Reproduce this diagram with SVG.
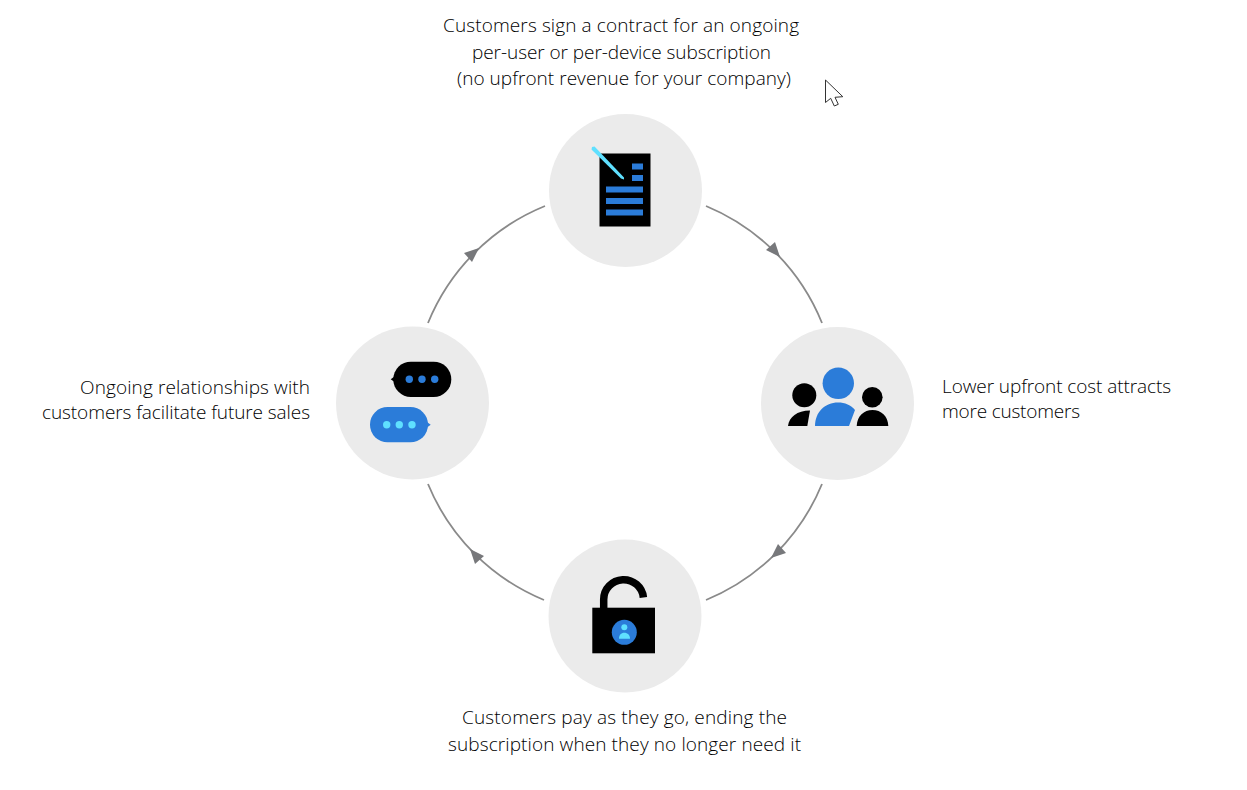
<svg xmlns="http://www.w3.org/2000/svg" width="1247" height="790" viewBox="0 0 1247 790">
<style>
.disc{fill:#ebebeb}
.blue{fill:#2b7cd9}
.cyan{fill:#5fe0ff}
.blk{fill:#000}
.arc{fill:none;stroke:#8a8a8a;stroke-width:1.8}
.head{fill:#77787b}
text{font-family:"Open Sans","Noto Sans","Liberation Sans",sans-serif;font-weight:300;font-size:19px;fill:#000}
.m{text-anchor:middle}
.e{text-anchor:end}
</style>
<defs>
<polygon id="arrow" points="780,257 775,242 766,250"/>
</defs>
<rect width="1247" height="790" fill="#fff"/>
<g id="connectors">
<path class="arc" d="M706 206A213 213 0 0 1 822 323"/>
<path class="arc" d="M822 484A213 213 0 0 1 706 600"/>
<path class="arc" d="M544 600A213 213 0 0 1 428 484"/>
<path class="arc" d="M428 323A213 213 0 0 1 545 206"/>
<use href="#arrow" class="head"/>
<use href="#arrow" class="head" transform="rotate(90 625 403)"/>
<use href="#arrow" class="head" transform="rotate(180 625 403)"/>
<use href="#arrow" class="head" transform="rotate(270 625 403)"/>
</g>
<g id="node-contract">
<circle class="disc" cx="625.5" cy="190.5" r="76.5"/>
<rect class="blk" x="599.5" y="153.5" width="51" height="73"/>
<rect class="blue" x="632" y="163.5" width="11" height="6"/>
<rect class="blue" x="632" y="175" width="11" height="6"/>
<rect class="blue" x="606" y="186.5" width="37" height="6"/>
<rect class="blue" x="606" y="198" width="37" height="6"/>
<rect class="blue" x="606" y="209.5" width="37" height="6"/>
<polygon class="cyan" points="591.5,149.500 592,147 594.500,146.500 624,177.500 624,179.500 621,178.500"/>
<text class="m" x="621" y="32" textLength="356">Customers sign a contract for an ongoing</text>
<text class="m" x="621.5" y="59" textLength="299">per-user or per-device subscription</text>
<text class="m" x="624" y="85" textLength="334">(no upfront revenue for your company)</text>
</g>
<g id="node-customers">
<circle class="disc" cx="837.5" cy="403.5" r="76.5"/>
<circle class="blue" cx="838.3" cy="383.3" r="15.7"/>
<path class="blue" d="M815 426C815 412 825 402.500 838 402.500C845 402.500 851 405 855 410L849 426Z"/>
<circle class="blk" cx="804.300" cy="395.300" r="12"/>
<path class="blk" d="M788 426C789 417 797 410.500 810 410.500L807.300 426Z"/>
<circle class="blk" cx="872.300" cy="397.300" r="10.300"/>
<path class="blk" d="M856.700 426C857 416 864 410 872.500 410C881 410 888 416 888.300 426Z"/>
<text x="942" y="393" textLength="229">Lower upfront cost attracts</text>
<text x="942" y="418" textLength="138">more customers</text>
</g>
<g id="node-pay">
<circle class="disc" cx="625" cy="616" r="76.500"/>
<path d="M603.700 608V599.500A19.900 19.800 0 0 1 643.400 597.500" fill="none" stroke="#000" stroke-width="7.500"/>
<rect class="blk" x="592.300" y="607.700" width="62.700" height="45.600"/>
<circle class="blue" cx="624.300" cy="632.300" r="12.500"/>
<circle class="cyan" cx="624.300" cy="627.300" r="3"/>
<path class="cyan" d="M619 638.700C619 635 621 632.800 624.300 632.800C627.600 632.800 630 635 630 638.700Z"/>
<text class="m" x="624.500" y="724" textLength="325">Customers pay as they go, ending the</text>
<text class="m" x="624.500" y="751" textLength="353">subscription when they no longer need it</text>
</g>
<g id="node-relationships">
<circle class="disc" cx="412.500" cy="403" r="76.500"/>
<rect class="blk" x="393.300" y="361.700" width="58" height="35.300" rx="17.600"/>
<polygon class="blk" points="390.700,379.300 394.500,376.500 394.500,382"/>
<circle class="blue" cx="409.300" cy="379.300" r="3.700"/>
<circle class="blue" cx="422" cy="379.300" r="3.700"/>
<circle class="blue" cx="434.700" cy="379.300" r="3.700"/>
<rect class="blue" x="370" y="407" width="58" height="35.300" rx="17.600"/>
<polygon class="blue" points="430.700,424.700 427,422 427,427.500"/>
<circle class="cyan" cx="386.700" cy="424.700" r="3.700"/>
<circle class="cyan" cx="399.300" cy="424.700" r="3.700"/>
<circle class="cyan" cx="412" cy="424.700" r="3.700"/>
<text class="e" x="310" y="394" textLength="230">Ongoing relationships with</text>
<text class="e" x="310" y="419" textLength="268">customers facilitate future sales</text>
</g>
<polygon points="825.500,80 825.500,102.500 830.700,98.300 834.300,106 838.300,104.300 835,97.300 842.800,96.700" fill="#fff" stroke="#333" stroke-width="1"/>
</svg>
